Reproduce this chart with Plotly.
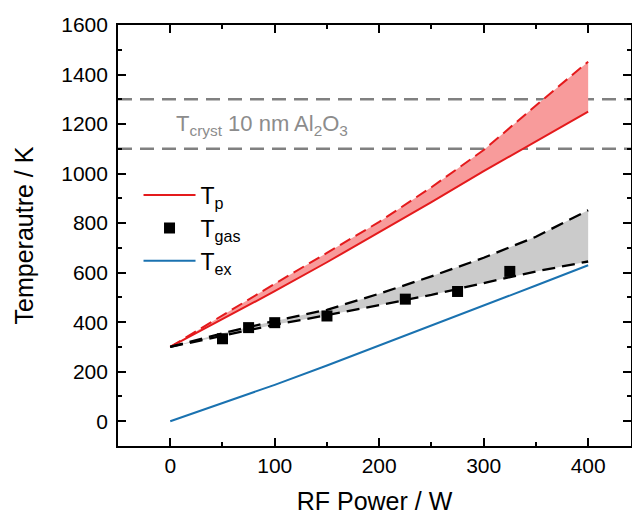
import plotly.graph_objects as go

# ---- data ----
power = [0, 50, 100, 150, 200, 250, 300, 350, 400]
tp_low = [300, 412, 525, 642, 762, 885, 1010, 1130, 1250]
tp_high = [300, 428, 555, 680, 805, 945, 1095, 1275, 1452]
tgas_low = [300, 345, 390, 428, 468, 510, 558, 605, 645]
tgas_high = [300, 355, 405, 450, 515, 585, 660, 745, 852]
tex = [0, 72, 147, 225, 305, 385, 465, 548, 630]

gas_power = [50, 75, 100, 150, 225, 275, 325]
gas_temp = [333, 378, 398, 425, 493, 524, 605]

cryst_limits = [1100, 1300]
x_ticks = [0, 100, 200, 300, 400]
y_ticks = [0, 200, 400, 600, 800, 1000, 1200, 1400, 1600]

RED = "#e41a1c"
BLUE = "#1a72b0"
FONT = "Liberation Sans, Arial, sans-serif"

fig = go.Figure()

fig.add_trace(go.Scatter(x=power, y=tp_low, mode="lines", name="T<sub>p</sub>",
                         line=dict(color=RED, width=2), legendgroup="a", legendrank=1))
fig.add_trace(go.Scatter(x=power, y=tp_high, mode="lines", showlegend=False,
                         fill="tonexty", fillcolor="#f89b9b",
                         line=dict(color=RED, width=2, dash="12px,6px")))
fig.add_trace(go.Scatter(x=power, y=tgas_low, mode="lines", showlegend=False,
                         line=dict(color="black", width=2.3, dash="13px,7px")))
fig.add_trace(go.Scatter(x=power, y=tgas_high, mode="lines", showlegend=False,
                         fill="tonexty", fillcolor="#cbcbcb",
                         line=dict(color="black", width=2.3, dash="13px,7px")))
fig.add_trace(go.Scatter(x=power, y=tex, mode="lines", name="T<sub>ex</sub>",
                         line=dict(color=BLUE, width=2), legendgroup="c", legendrank=3))
fig.add_trace(go.Scatter(x=gas_power, y=gas_temp, mode="markers", name="T<sub>gas</sub>",
                         marker=dict(symbol="square", size=11, color="black"),
                         legendgroup="b", legendrank=2))

for yv in cryst_limits:
    fig.add_hline(y=yv, line=dict(color="#808080", width=2.5, dash="14px,8px"), layer="below")

fig.add_annotation(x=4, y=1195, xref="x", yref="y", xanchor="left", yanchor="middle",
                   text="T<sub>cryst</sub> 10 nm Al<sub>2</sub>O<sub>3</sub>",
                   showarrow=False, font=dict(size=22, color="#8c8c8c", family=FONT))

axis_common = dict(showgrid=False, zeroline=False, showline=True, linecolor="black",
                   linewidth=1.7, mirror="ticks", ticks="inside", ticklen=8,
                   tickwidth=1.5, tickcolor="black", automargin=False,
                   tickfont=dict(size=21, color="black", family=FONT))

fig.update_xaxes(range=[-50, 441], tickvals=x_ticks,
                 minor=dict(ticks="inside", ticklen=4, dtick=50, tick0=0, tickcolor="black", tickwidth=1.5),
                 title=dict(text="RF Power / W", font=dict(size=25, color="black", family=FONT), standoff=18),
                 **axis_common)
fig.update_yaxes(range=[-100, 1600], tickvals=y_ticks, ticklabelstandoff=4,
                 minor=dict(ticks="inside", ticklen=4, dtick=100, tick0=0, tickcolor="black", tickwidth=1.5),
                 title=dict(text="Temperautre / K", font=dict(size=25, color="black", family=FONT), standoff=20),
                 **axis_common)

fig.update_layout(
    width=632, height=515,
    margin=dict(l=118, r=1, t=25, b=69, autoexpand=False),
    plot_bgcolor="white", paper_bgcolor="white",
    font=dict(family=FONT),
    legend=dict(x=0.04, y=0.647, xanchor="left", yanchor="top",
                bgcolor="rgba(0,0,0,0)", font=dict(size=23, color="black", family=FONT),
                traceorder="grouped", tracegroupgap=0, itemwidth=52),
)

fig.write_html("out.html", config={"displayModeBar": False},
               post_script="document.body.style.margin='0';document.body.style.overflow='hidden';")
